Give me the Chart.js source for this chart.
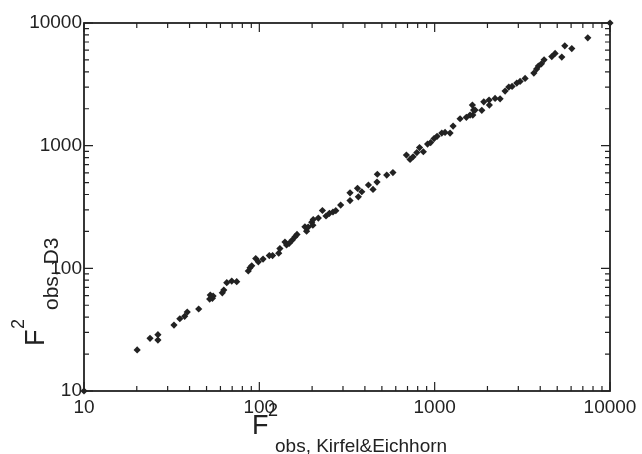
<!DOCTYPE html>
<html>
<head>
<meta charset="utf-8">
<script src="https://cdn.jsdelivr.net/npm/chart.js@4"></script>
<style>
  html, body { margin: 0; padding: 0; background: #fff; }
</style>
</head>
<body>
<canvas id="chart" width="642" height="454"></canvas>
<script>
// F^2 observed, Kirfel & Eichhorn (x) vs D3 (y)
const fKirfel = [
  20.1, 23.8, 26.4, 26.4, 32.6, 35.2, 37.5, 38.8, 45.1, 52.5,
  54.0, 54.5, 52.1, 61.5, 62.7, 65.2, 69.6, 74.3, 86.5, 88.5,
  90.5, 95.4, 98.7, 105, 114, 119, 129, 131, 140, 143,
  148, 154, 160, 164, 182, 186, 190, 199, 202, 203,
  217, 229, 240, 251, 263, 273, 291, 329, 329, 363,
  367, 384, 419, 445, 469, 471, 533, 578, 690, 724,
  753, 791, 820, 862, 911, 948, 992, 1032, 1098, 1146,
  1224, 1274, 1396, 1516, 1592, 1641, 1650, 1667, 1700, 1857,
  1906, 2043, 2051, 2211, 2361, 2521, 2647, 2764, 2940, 3070,
  3279, 3680, 3814, 3905, 4061, 4208, 4656, 4863, 5309, 5523,
  6054, 7469
];
const fD3 = [
  21.6, 26.9, 28.8, 26.0, 34.5, 38.8, 40.6, 44.0, 46.6, 60.5,
  57.0, 59.4, 56.2, 63.2, 66.5, 76.4, 78.8, 77.8, 95.1, 101,
  105, 120, 113, 119, 127, 127, 133, 145, 164, 155,
  160, 170, 181, 189, 218, 201, 217, 238, 225, 250,
  257, 296, 267, 281, 288, 295, 328, 357, 413, 449,
  383, 421, 478, 440, 505, 585, 576, 604, 838, 773,
  812, 879, 965, 892, 1030, 1060, 1143, 1191, 1267, 1283,
  1267, 1444, 1657, 1701, 1776, 2142, 1776, 1950, 1950, 1940,
  2279, 2353, 2142, 2429, 2411, 2786, 3003, 3043, 3237, 3342,
  3536, 3906, 4210, 4453, 4650, 5013, 5323, 5654, 5273, 6520,
  6186, 7575
];
// markers sitting on the two corners of the frame
const cornerX = [10, 10000];
const cornerY = [10, 10000];

const majorTicks = [10, 100, 1000, 10000];
const minorSteps = [2, 3, 4, 5, 6, 7, 8, 9];

const ink = "#222";
const labelFont = "Liberation Sans, Arial, sans-serif";

const toPoints = (xs, ys) => xs.map((x, i) => ({ x: x, y: ys[i] }));

// frame with inward ticks on all four sides, plus the two axis titles
const frameTicks = {
  id: "frameTicks",
  beforeDatasetsDraw(chart) {
    const { ctx, chartArea: a, scales } = chart;
    const xs = scales.x, ys = scales.y;
    ctx.save();
    ctx.strokeStyle = ink;
    ctx.lineWidth = 1.2;
    const tick = (v, len) => {
      const px = xs.getPixelForValue(v);
      const py = ys.getPixelForValue(v);
      ctx.beginPath();
      ctx.moveTo(px, a.bottom); ctx.lineTo(px, a.bottom - len);
      ctx.moveTo(px, a.top); ctx.lineTo(px, a.top + len);
      ctx.moveTo(a.left, py); ctx.lineTo(a.left + len, py);
      ctx.moveTo(a.right, py); ctx.lineTo(a.right - len, py);
      ctx.stroke();
    };
    majorTicks.forEach((v) => tick(v, 9));
    majorTicks.slice(0, -1).forEach((d) => minorSteps.forEach((m) => tick(d * m, 5)));
    ctx.lineWidth = 1.8;
    ctx.strokeRect(a.left, a.top, a.right - a.left, a.bottom - a.top);
    ctx.restore();
  },
  afterDraw(chart) {
    const { ctx } = chart;
    ctx.save();
    ctx.fillStyle = ink;
    ctx.textBaseline = "alphabetic";
    ctx.textAlign = "left";
    // x title
    ctx.font = "27px " + labelFont;
    ctx.fillText("F", 252, 434);
    ctx.font = "18px " + labelFont;
    ctx.fillText("2", 268, 416);
    ctx.font = "19px " + labelFont;
    ctx.fillText("obs, Kirfel&Eichhorn", 275, 452);
    // y title
    ctx.translate(44, 346);
    ctx.rotate(-Math.PI / 2);
    ctx.font = "27px " + labelFont;
    ctx.fillText("F", 0, 0);
    ctx.font = "18px " + labelFont;
    ctx.fillText("2", 17, -20);
    ctx.font = "21px " + labelFont;
    ctx.fillText("obs, D3", 36, 14);
    ctx.restore();
  },
};

const logAxis = (extra) => Object.assign({
  type: "logarithmic",
  min: 10,
  max: 10000,
  afterBuildTicks: (scale) => {
    scale.ticks = majorTicks.map((v) => ({ value: v, major: true }));
  },
  grid: { display: false, drawTicks: false },
  border: { display: false },
}, extra);

new Chart(document.getElementById("chart"), {
  type: "scatter",
  data: {
    datasets: [
      {
        label: "F2 obs",
        data: toPoints(fKirfel, fD3),
        pointStyle: "rectRot",
        pointRadius: 3.6,
        backgroundColor: ink,
        borderColor: ink,
        borderWidth: 0,
      },
      {
        label: "corners",
        data: toPoints(cornerX, cornerY),
        pointStyle: "rectRot",
        pointRadius: 3.6,
        backgroundColor: ink,
        borderWidth: 0,
        clip: false,
      },
    ],
  },
  options: {
    responsive: false,
    animation: false,
    layout: { padding: { top: 23, right: 32, left: 0, bottom: 0 } },
    plugins: {
      legend: { display: false },
      tooltip: { enabled: false },
    },
    scales: {
      x: logAxis({
        afterFit: (scale) => { scale.height = 63; },
        ticks: {
          autoSkip: false,
          maxRotation: 0,
          padding: 5,
          color: ink,
          font: { family: labelFont, size: 19 },
          callback: (v) => String(v),
        },
      }),
      y: logAxis({
        afterFit: (scale) => { scale.width = 84; },
        ticks: {
          autoSkip: false,
          padding: 2,
          color: ink,
          font: { family: labelFont, size: 19 },
          callback: (v) => String(v),
        },
      }),
    },
  },
  plugins: [frameTicks],
});
</script>
</body>
</html>
